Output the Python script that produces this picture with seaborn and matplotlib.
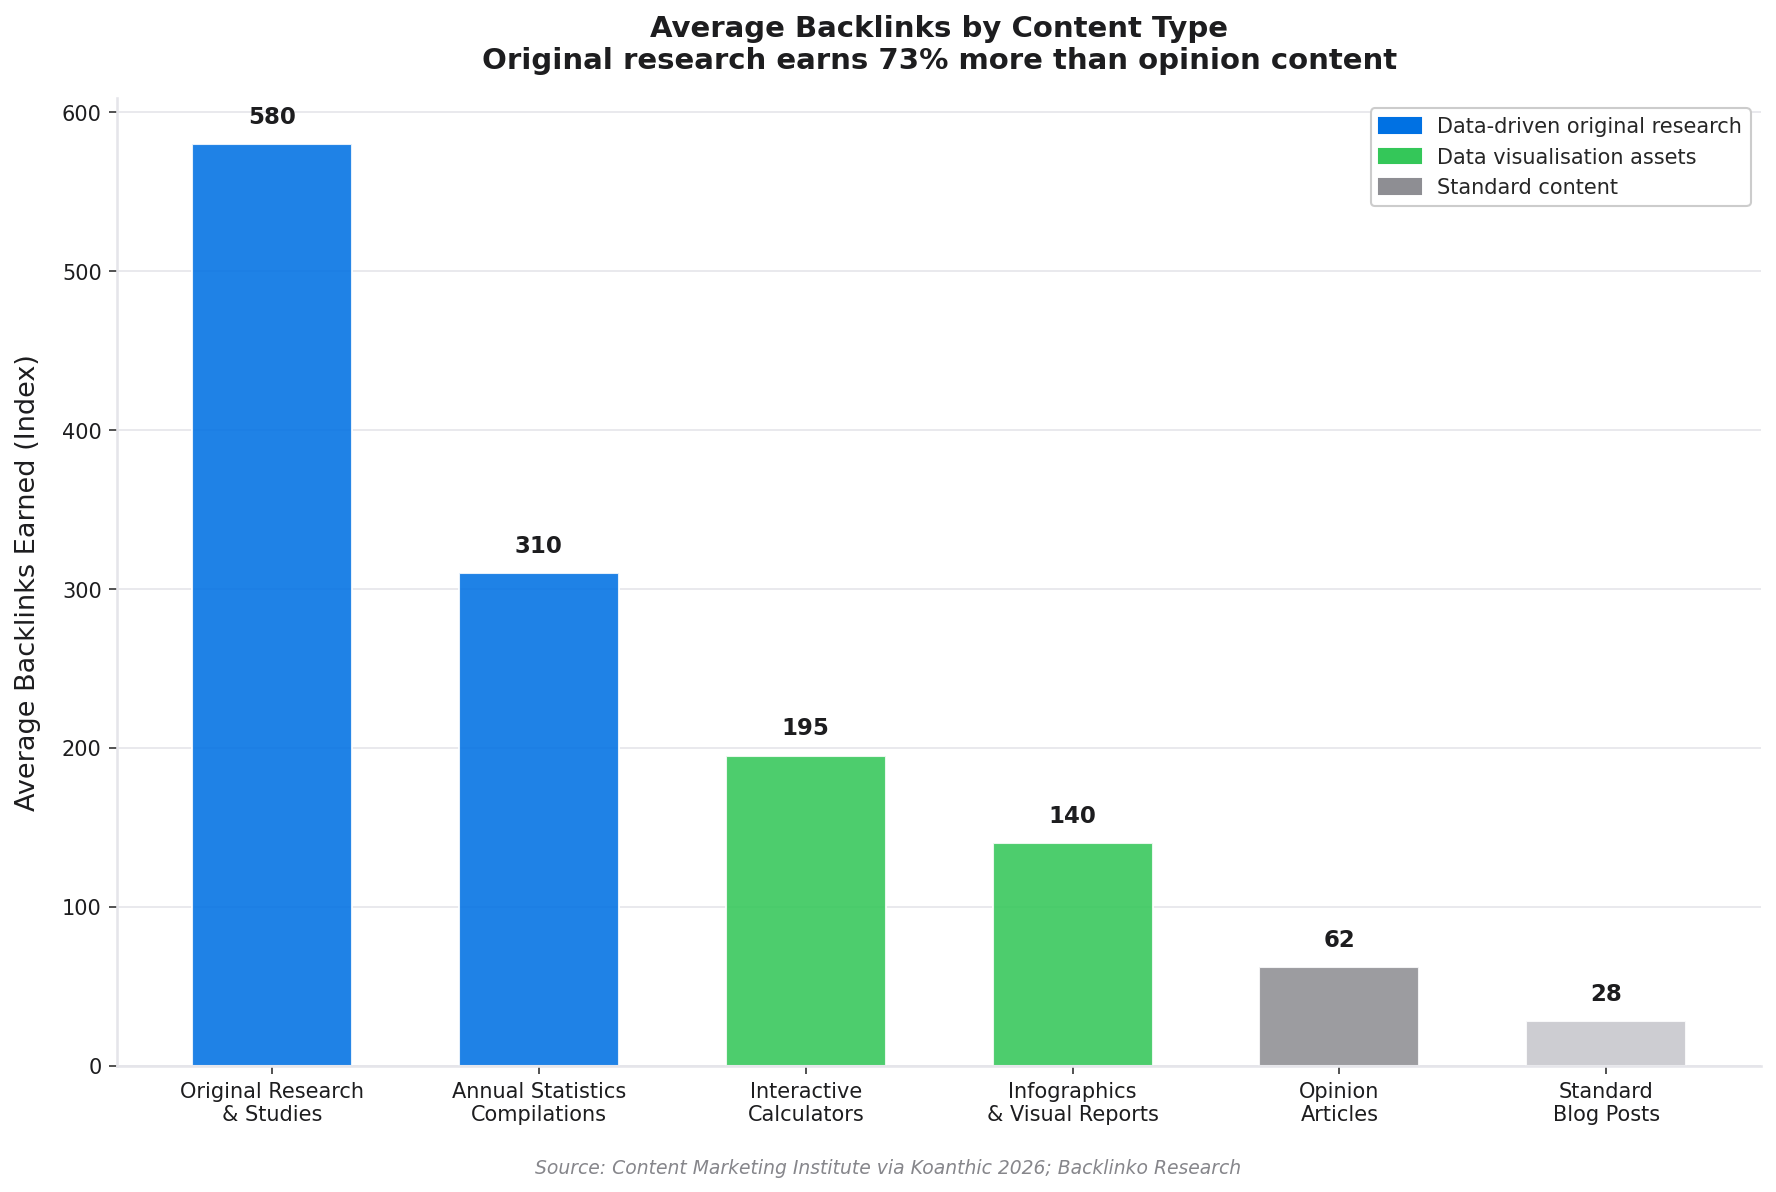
import matplotlib
matplotlib.use("Agg")
import matplotlib.pyplot as plt
import seaborn as sns
import pandas as pd
from matplotlib.patches import Patch

categories = ["Original Research\n& Studies", "Annual Statistics\nCompilations",
              "Interactive\nCalculators", "Infographics\n& Visual Reports",
              "Opinion\nArticles", "Standard\nBlog Posts"]
backlinks = [580, 310, 195, 140, 62, 28]
bar_colors = ["#0071E3", "#0071E3", "#34C759", "#34C759", "#8E8E93", "#C7C7CC"]
legend_labels = ["Data-driven original research", "Data visualisation assets", "Standard content"]
legend_colors = ["#0071E3", "#34C759", "#8E8E93"]

df = pd.DataFrame({"category": categories, "backlinks": backlinks})

sns.set_theme(style="whitegrid")
plt.rcParams['font.family'] = ['DejaVu Sans']

fig, ax = plt.subplots(figsize=(12, 8), dpi=150)
sns.barplot(data=df, x="category", y="backlinks", hue="category",
            palette=bar_colors, legend=False, width=0.6, alpha=0.88,
            saturation=1, ax=ax)

for i, v in enumerate(backlinks):
    ax.text(i, v + 10, str(v), ha="center", va="bottom",
            fontsize=11, fontweight="bold", color="#1d1d1f")

ax.set_xlim(-0.58, len(categories) - 1 + 0.58)
ax.set_ylim(0, 609)
ax.set_xlabel("")
ax.set_ylabel("Average Backlinks Earned (Index)", fontsize=13, color="#1d1d1f", labelpad=10)
ax.set_title("Average Backlinks by Content Type\nOriginal research earns 73% more than opinion content",
             fontsize=14, fontweight="bold", color="#1d1d1f", pad=14)

ax.grid(axis="x", visible=False)
ax.grid(axis="y", color="#e5e5ea", linewidth=0.8)
ax.set_axisbelow(True)
sns.despine(ax=ax)
for s in ["left", "bottom"]:
    ax.spines[s].set_color("#e5e5ea")
ax.tick_params(axis="both", labelsize=10, colors="#1d1d1f", length=4, width=0.8,
               left=True, bottom=True)
ax.tick_params(axis="both", color="#333333")

handles = [Patch(color=c, label=l) for c, l in zip(legend_colors, legend_labels)]
ax.legend(handles=handles, loc="upper right", fontsize=10, frameon=True,
          edgecolor="#cccccc", framealpha=1)

fig.text(0.5, 0.012, "Source: Content Marketing Institute via Koanthic 2026; Backlinko Research",
         ha="center", fontsize=9, style="italic", color="#86868b")

plt.tight_layout(rect=(0, 0.03, 1, 1))
plt.savefig("out.png", dpi=150, bbox_inches="tight")
